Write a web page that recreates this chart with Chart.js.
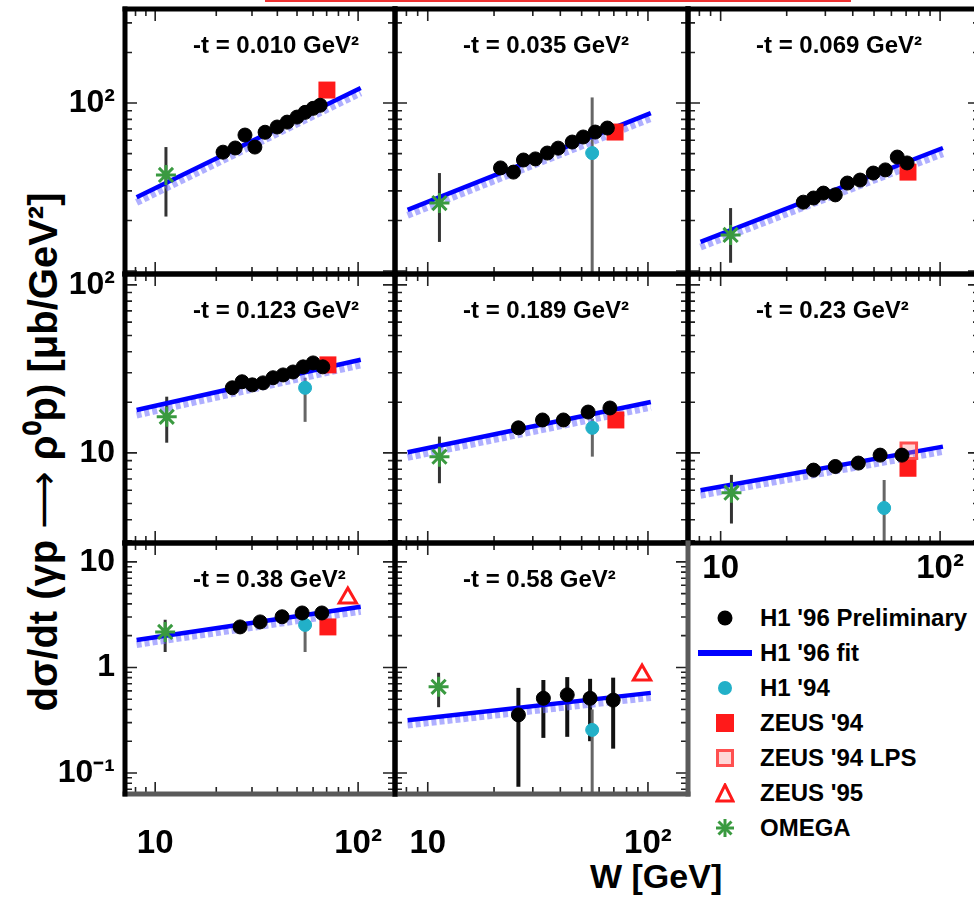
<!DOCTYPE html>
<html>
<head>
<meta charset="utf-8">
<script src="https://cdn.jsdelivr.net/npm/chart.js@4.4.1/dist/chart.umd.min.js"></script>
<style>
  html, body { margin: 0; padding: 0; background: #fff; }
  #page { position: relative; width: 974px; height: 898px; overflow: hidden;
          font-family: "Liberation Sans", Arial, sans-serif; font-weight: bold; color: #000; }
  #page canvas { position: absolute; }
  #topline { position: absolute; left: 265px; top: 0; width: 586px; height: 2px; background: #ee3333; }
  #ytitle { position: absolute; left: 41px; top: 452px; transform: translate(-50%, -50%) rotate(-90deg);
            font-size: 40px; white-space: nowrap; }
  #ytitle .arr { font-family: "DejaVu Sans", sans-serif; font-weight: normal; }
  #xtitle { position: absolute; left: 590px; top: 857px; font-size: 34px; white-space: nowrap; }
  #legend { position: absolute; left: 695px; top: 600px; font-size: 24px; }
  .lrow { height: 35px; display: flex; align-items: center; }
  .mk { width: 60px; height: 35px; display: flex; align-items: center; justify-content: center; }
  .txt { margin-left: 5px; white-space: nowrap; }
</style>
</head>
<body>
<div id="page">
  <div id="topline"></div>
  <div id="ytitle">dσ/dt (γp <span class="arr">⟶</span> ρ⁰p) [μb/GeV²]</div>
  <div id="xtitle">W [GeV]</div>
  <div id="legend"></div>
</div>
<script>
// axis ranges and tick labels
const xRange = [7.1, 152];
const xTickVals = [10, 100];
const xTickText = ["10", "10²"];
const yRanges = [[9.6, 363], [2.91, 116], [0.0632, 15.1]];
const yTickVals = [[100], [100, 10], [10, 1, 0.1]];
const yTickText = [["10²"], ["10²", "10"], ["10", "1", "10⁻¹"]];

const panelLabels = [
  "-t = 0.010 GeV²", "-t = 0.035 GeV²", "-t = 0.069 GeV²",
  "-t = 0.123 GeV²", "-t = 0.189 GeV²", "-t = 0.23 GeV²",
  "-t = 0.38 GeV²", "-t = 0.58 GeV²"
];

// H1 '96 preliminary (one list per panel)
const h1W = [
  [21.6, 24.8, 27.7, 31.0, 34.8, 39.9, 44.7, 50.0, 54.8, 60.0, 65.0],
  [21.4, 24.5, 27.2, 30.8, 34.9, 39.1, 45.3, 50.8, 57.6, 65.4],
  [23.8, 26.5, 29.4, 33.3, 37.8, 43.2, 49.6, 56.3, 63.8, 70.7],
  [24.0, 26.8, 30.1, 34.0, 38.1, 42.7, 47.8, 53.6, 60.0, 67.0],
  [25.8, 33.2, 41.3, 53.5, 67.2],
  [26.5, 33.3, 42.4, 53.3, 67.0],
  [26.2, 32.9, 42.2, 53.0, 66.3],
  [25.8, 33.5, 43.0, 54.6, 69.5]
];
const h1Val = [
  [51, 54, 64.5, 54.7, 67, 72, 77, 82.5, 88, 93, 97],
  [41.1, 38.8, 45.8, 46.5, 50.4, 53.9, 58.6, 62.8, 67.2, 71],
  [25.7, 27.2, 29.1, 28.4, 33.4, 34.8, 38.3, 40, 47.7, 44],
  [24.4, 26.5, 25.4, 26.1, 28.0, 29.1, 30.3, 32.5, 34.3, 32.5],
  [14.1, 15.7, 15.7, 17.5, 18.5],
  [7.9, 8.3, 8.7, 9.7, 9.7],
  [2.42, 2.70, 3.02, 3.28, 3.28],
  [0.355, 0.51, 0.55, 0.51, 0.49]
];
const h1Lo = [null, null, null, null, null, null, null, [0.074, 0.215, 0.22, 0.2, 0.17]];
const h1Hi = [null, null, null, null, null, null, null, [0.64, 0.76, 0.81, 0.78, 0.80]];

// H1 '96 fit and its band
const fitW = [8.1, 103];
const fitVal = [[27.5, 123], [23.1, 87], [14.9, 54], [18.0, 35.8], [10.1, 20.1], [6.0, 10.9], [1.82, 3.75], [0.316, 0.574]];
const bandVal = [[25.6, 115], [21.5, 81], [13.9, 50], [16.8, 33.4], [9.4, 18.7], [5.6, 10.2], [1.65, 3.4], [0.285, 0.52]];

// H1 '94
const h94W = [null, 55.8, null, 54.8, 55.9, 55.6, 54.8, 55.8];
const h94Val = [null, 50.4, null, 24.4, 14.1, 4.7, 2.53, 0.256];
const h94Lo = [null, 5, null, 15.3, 9.5, 2.5, 1.40, 0.05];
const h94Hi = [null, 108, null, 28, 16, 6.9, 2.9, 0.40];

// ZEUS
const z94W = [70.2, 70.9, 71.4, 71.0, 71.5, 71.4, 71.0, null];
const z94Val = [119.5, 67.2, 38.8, 33.4, 15.7, 8.1, 2.42, null];
const zLpsW = [null, null, null, null, null, 72, null, null];
const zLpsVal = [null, null, null, null, null, 10.3, null, null];
const z95W = [null, null, null, null, null, null, 89, 94];
const z95Val = [null, null, null, null, null, null, 4.55, 0.85];

// OMEGA
const omegaW = [11.3, 11.3, 11.1, 11.4, 11.3, 11.2, 11.2, 11.2];
const omegaVal = [37.3, 25.4, 16.4, 16.4, 9.5, 5.8, 2.17, 0.655];
const omegaLo = [21.1, 14.9, 11.2, 11.5, 6.6, 3.8, 1.40, 0.42];
const omegaHi = [54.7, 38.3, 23.7, 21.6, 12.5, 7.4, 2.83, 0.89];

const legendLabels = ["H1 '96 Preliminary", "H1 '96 fit", "H1 '94", "ZEUS '94", "ZEUS '94 LPS", "ZEUS '95", "OMEGA"];

// layout
const colEdges = [125, 395, 688, 980];
const rowEdges = [9, 274, 543, 794];
const panels = [
  { c: 0, r: 0 }, { c: 1, r: 0 }, { c: 2, r: 0 },
  { c: 0, r: 1 }, { c: 1, r: 1 }, { c: 2, r: 1, xLab: "near" },
  { c: 0, r: 2, xLab: "far" }, { c: 1, r: 2, xLab: "far" }
];

const BLUE = "#0000ff", CYAN = "#22b0c8", RED = "#ff1a1a", GREEN = "#3a9a40";
Chart.defaults.font.family = '"Liberation Sans", Arial, sans-serif';

const panelDecor = {
  id: "panelDecor",
  beforeDatasetsDraw(chart) {
    const { ctx, chartArea: a, scales: { x, y } } = chart;
    ctx.save();
    ctx.beginPath();
    ctx.rect(a.left, a.top, a.right - a.left, a.bottom - a.top);
    ctx.clip();
    chart.data.datasets.forEach((ds) => {
      if (!ds.errLo) return;
      ctx.strokeStyle = ds.errColor;
      ctx.lineWidth = ds.errWidth;
      ds.data.forEach((p, j) => {
        if (ds.errLo[j] == null) return;
        const px = x.getPixelForValue(p.x);
        ctx.beginPath();
        ctx.moveTo(px, y.getPixelForValue(ds.errLo[j]));
        ctx.lineTo(px, y.getPixelForValue(ds.errHi[j]));
        ctx.stroke();
      });
    });
    ctx.restore();
  },
  afterDraw(chart, args, opts) {
    const { ctx, chartArea: a, scales: { x, y } } = chart;
    ctx.save();
    ctx.strokeStyle = "#222";
    ctx.lineWidth = 1.6;
    for (let e = -2; e <= 3; e++) {
      for (let m = 1; m <= 9; m++) {
        const v = m * Math.pow(10, e);
        const len = m === 1 ? 12 : 7;
        ctx.beginPath();
        if (v > x.min && v < x.max) {
          const px = x.getPixelForValue(v);
          ctx.moveTo(px, a.bottom); ctx.lineTo(px, a.bottom - len);
          ctx.moveTo(px, a.top); ctx.lineTo(px, a.top + len);
        }
        if (v > y.min && v < y.max) {
          const py = y.getPixelForValue(v);
          ctx.moveTo(a.left, py); ctx.lineTo(a.left + len, py);
          ctx.moveTo(a.right, py); ctx.lineTo(a.right - len, py);
        }
        ctx.stroke();
      }
    }
    // frame: top, right, bottom, left
    const f = opts.frame;
    ctx.lineWidth = 5;
    ctx.lineCap = "square";
    const seg = (c, x1, y1, x2, y2) => {
      ctx.strokeStyle = c;
      ctx.beginPath(); ctx.moveTo(x1, y1); ctx.lineTo(x2, y2); ctx.stroke();
    };
    seg(f[0], a.left, a.top, a.right, a.top);
    seg(f[1], a.right, a.top, a.right, a.bottom);
    seg(f[2], a.left, a.bottom, a.right, a.bottom);
    seg(f[3], a.left, a.top, a.left, a.bottom);
    ctx.fillStyle = "#000";
    ctx.font = 'bold 24px "Liberation Sans", Arial, sans-serif';
    ctx.textBaseline = "middle";
    ctx.textAlign = "left";
    ctx.fillText(opts.label, a.left + 68, a.top + 37);
    ctx.restore();
  }
};

function pts(ws, vs) {
  return ws.map((w, k) => ({ x: w, y: vs[k] }));
}
function one(w, v) {
  return w == null ? [] : [{ x: w, y: v }];
}

const page = document.getElementById("page");
const PAD = 20, YW = 70;

panels.forEach((p, i) => {
  const l = colEdges[p.c], r = colEdges[p.c + 1], t = rowEdges[p.r], b = rowEdges[p.r + 1];
  const yLab = p.c === 0;
  const YWi = yLab ? YW : 0;
  const XH = p.xLab === "far" ? 70 : p.xLab === "near" ? 48 : 0;
  const w = r - l + 2 * PAD + YWi;
  const h = b - t + 2 * PAD + XH;
  const cv = document.createElement("canvas");
  cv.width = w; cv.height = h;
  cv.style.left = (l - PAD - YWi) + "px";
  cv.style.top = (t - PAD) + "px";
  cv.style.width = w + "px"; cv.style.height = h + "px";
  page.appendChild(cv);

  const grey = "#5a5a5a";
  const frame = ["#000", "#000", "#000", "#000"];
  if (p.r === 2) frame[2] = grey;
  if (i === 7) frame[1] = grey;

  const datasets = [
    { label: "H1 '96 Preliminary", data: pts(h1W[i], h1Val[i]), pointStyle: "circle", pointRadius: 7,
      backgroundColor: "#000", borderColor: "#000", borderWidth: 1,
      errLo: h1Lo[i], errHi: h1Hi[i], errColor: "#111", errWidth: 4 },
    { label: "H1 '94", data: one(h94W[i], h94Val[i]), pointStyle: "circle", pointRadius: 6.5,
      backgroundColor: CYAN, borderColor: CYAN, borderWidth: 1,
      errLo: [h94Lo[i]], errHi: [h94Hi[i]], errColor: "#666", errWidth: 3 },
    { label: "ZEUS '94", data: one(z94W[i], z94Val[i]), pointStyle: "rect", pointRadius: 12,
      backgroundColor: RED, borderColor: RED, borderWidth: 0 },
    { label: "ZEUS '94 LPS", data: one(zLpsW[i], zLpsVal[i]), pointStyle: "rect", pointRadius: 11,
      backgroundColor: "rgba(255,140,140,0.35)", borderColor: "#ff5050", borderWidth: 3 },
    { label: "ZEUS '95", data: one(z95W[i], z95Val[i]), pointStyle: "triangle", pointRadius: 10,
      backgroundColor: "#fff", borderColor: RED, borderWidth: 3 },
    { label: "OMEGA", data: one(omegaW[i], omegaVal[i]), pointStyle: "star", pointRadius: 10,
      backgroundColor: GREEN, borderColor: GREEN, borderWidth: 3,
      errLo: [omegaLo[i]], errHi: [omegaHi[i]], errColor: "#333", errWidth: 3 },
    { label: "H1 '96 fit", data: pts(fitW, fitVal[i]), showLine: true, pointRadius: 0,
      borderColor: BLUE, borderWidth: 4.5 },
    { label: "band", data: pts(fitW, bandVal[i]), showLine: true, pointRadius: 0,
      borderColor: "rgba(110,110,255,0.55)", borderWidth: 7, borderDash: [5, 3] }
  ];

  new Chart(cv, {
    type: "scatter",
    data: { datasets },
    plugins: [panelDecor],
    options: {
      responsive: false,
      animation: false,
      devicePixelRatio: 1,
      layout: { padding: PAD },
      plugins: {
        legend: { display: false },
        tooltip: { enabled: false },
        panelDecor: { label: panelLabels[i], frame }
      },
      scales: {
        x: {
          type: "logarithmic", min: xRange[0], max: xRange[1], display: !!p.xLab,
          grid: { display: false, drawTicks: false }, border: { display: false },
          afterBuildTicks: (s) => { s.ticks = xTickVals.map((v) => ({ value: v })); },
          afterFit: (s) => { s.height = XH; s.paddingLeft = 0; s.paddingRight = 0; },
          ticks: {
            padding: p.xLab === "far" ? 30 : 6, autoSkip: false, maxRotation: 0,
            color: "#000", font: { size: 33, weight: "bold" },
            callback: (v, k) => xTickText[k]
          }
        },
        y: {
          type: "logarithmic", min: yRanges[p.r][0], max: yRanges[p.r][1], display: yLab,
          grid: { display: false, drawTicks: false }, border: { display: false },
          afterBuildTicks: (s) => { s.ticks = yTickVals[p.r].map((v) => ({ value: v })); },
          afterFit: (s) => { s.width = YWi; s.paddingTop = 0; s.paddingBottom = 0; },
          ticks: {
            padding: 10, autoSkip: false,
            color: "#000", font: { size: 32, weight: "bold" },
            callback: (v, k) => yTickText[p.r][k]
          }
        }
      }
    }
  });
});

// legend
const legendMarks = [
  '<svg width="18" height="18"><circle cx="9" cy="9" r="7.5" fill="#000"/></svg>',
  '<svg width="54" height="8"><rect x="0" y="1" width="54" height="6" fill="' + BLUE + '"/></svg>',
  '<svg width="18" height="18"><circle cx="9" cy="9" r="7" fill="' + CYAN + '"/></svg>',
  '<svg width="18" height="18"><rect x="0" y="0" width="18" height="18" fill="' + RED + '"/></svg>',
  '<svg width="18" height="18"><rect x="1.5" y="1.5" width="15" height="15" fill="rgba(255,140,140,0.35)" stroke="#ff5050" stroke-width="3"/></svg>',
  '<svg width="20" height="20"><polygon points="10,2 18,18 2,18" fill="#fff" stroke="' + RED + '" stroke-width="3"/></svg>',
  '<svg width="20" height="20"><g stroke="' + GREEN + '" stroke-width="3"><line x1="10" y1="1" x2="10" y2="19"/><line x1="1" y1="10" x2="19" y2="10"/><line x1="3.5" y1="3.5" x2="16.5" y2="16.5"/><line x1="16.5" y1="3.5" x2="3.5" y2="16.5"/></g></svg>'
];
const legend = document.getElementById("legend");
legendLabels.forEach((lab, k) => {
  const row = document.createElement("div");
  row.className = "lrow";
  row.innerHTML = '<div class="mk">' + legendMarks[k] + '</div><div class="txt"></div>';
  row.querySelector(".txt").textContent = lab;
  legend.appendChild(row);
});
</script>
</body>
</html>
